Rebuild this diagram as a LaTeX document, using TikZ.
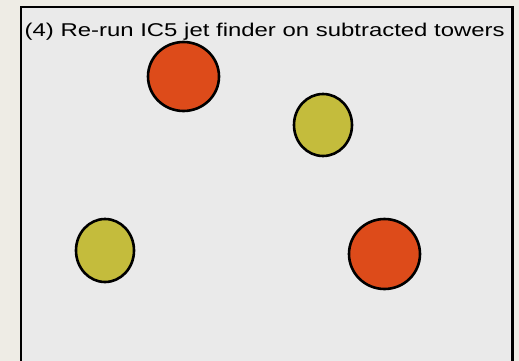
\documentclass[tikz,border=0pt]{standalone}
\usepackage{fontspec}
\setmainfont{Liberation Sans}
\usetikzlibrary{shapes.geometric}
\definecolor{bgout}{HTML}{EEECE5}
\definecolor{panel}{HTML}{EAEAEA}
\definecolor{jetred}{HTML}{DD4B1A}
\definecolor{jetyel}{HTML}{C4BC3C}
\tikzset{
  x=1pt, y=1pt,
  jetbase/.style={ellipse, draw=black, line width=2.6pt, inner sep=0pt},
  redjet/.style={jetbase, fill=jetred},
  yeljet/.style={jetbase, fill=jetyel},
}
\begin{document}
\begin{tikzpicture}
\useasboundingbox (0,0) rectangle (519,-361);
\fill[bgout] (0,0) rectangle (519,-361);
\draw[line width=2.4pt, fill=panel] (21.2,-7.2) rectangle (512.5,-380);
\node[anchor=base west, inner sep=0pt] (title) at (24.5,-36.5)
  {\resizebox{480pt}{\height}{\fontsize{18.5pt}{22pt}\selectfont (4) Re-run IC5 jet finder on subtracted towers}};
\node[redjet, minimum width=71pt, minimum height=69pt] (j1) at (183.5,-76.5) {};
\node[yeljet, minimum width=58pt, minimum height=62pt] (j2) at (323,-125) {};
\node[yeljet, minimum width=58pt, minimum height=63pt] (j3) at (105,-250.5) {};
\node[redjet, minimum width=71pt, minimum height=70pt] (j4) at (384.5,-254) {};
\end{tikzpicture}
\end{document}
